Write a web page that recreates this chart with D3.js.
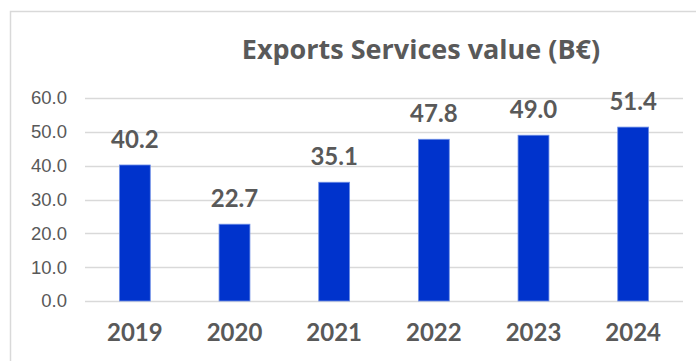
<!DOCTYPE html>
<html>
<head>
<meta charset="utf-8">
<script src="https://cdn.jsdelivr.net/npm/d3@7"></script>
<style>
  html, body { margin: 0; padding: 0; background: #fff; }
  svg { display: block; }
</style>
</head>
<body>
<svg id="chart" width="696" height="361"></svg>
<script>
// Annual exports of services, billions of euros
const years = ["2019", "2020", "2021", "2022", "2023", "2024"];
const values = [40.2, 22.7, 35.1, 47.8, 49.0, 51.4];
const yTicks = [0, 10, 20, 30, 40, 50, 60];
const title = "Exports Services value (B€)";

const W = 696, H = 361;
const margin = { left: 85, right: 13, top: 98, bottom: 60 };
const svg = d3.select("#chart");

// chart frame (only top and left edges fall inside the view)
svg.append("rect")
  .attr("x", 10.5).attr("y", 11.5)
  .attr("width", 720).attr("height", 400)
  .attr("fill", "none")
  .attr("stroke", "#d9d9d9")
  .attr("stroke-width", 1.5);

const x = d3.scaleBand()
  .domain(years)
  .range([margin.left, W - margin.right])
  .paddingInner(0.69)
  .paddingOuter(0.345);

const y = d3.scaleLinear()
  .domain([0, 60])
  .range([301, 98]);

// horizontal gridlines
svg.append("g")
  .selectAll("line")
  .data(yTicks)
  .join("line")
  .attr("x1", margin.left)
  .attr("x2", W - margin.right)
  .attr("y1", d => Math.round(y(d)) + 0.5)
  .attr("y2", d => Math.round(y(d)) + 0.5)
  .attr("stroke", "#d9d9d9")
  .attr("stroke-width", 1.5);

// y axis labels
const yAxis = d3.axisLeft(y)
  .tickValues(yTicks)
  .tickFormat(d3.format(".1f"))
  .tickSize(0)
  .tickPadding(0);
const gy = svg.append("g")
  .attr("transform", "translate(67,0)")
  .call(yAxis);
gy.select(".domain").remove();
gy.selectAll("text")
  .attr("fill", "#595959")
  .attr("font-family", "'Liberation Sans', Arial, sans-serif")
  .attr("font-size", 18.5);

// bars
svg.append("g")
  .selectAll("rect")
  .data(values)
  .join("rect")
  .attr("x", (d, i) => x(years[i]))
  .attr("y", d => y(d))
  .attr("width", x.bandwidth())
  .attr("height", d => y(0) - y(d))
  .attr("fill", "#0033cc")
  .attr("stroke", "#6f8fe6")
  .attr("stroke-width", 0.8);

// value labels
svg.append("g")
  .selectAll("text")
  .data(values)
  .join("text")
  .attr("x", (d, i) => x(years[i]) + x.bandwidth() / 2)
  .attr("y", d => y(d) - 17)
  .attr("text-anchor", "middle")
  .attr("fill", "#595959")
  .attr("font-family", "Lato, 'Open Sans', sans-serif")
  .attr("font-weight", "bold")
  .attr("font-size", 24)
  .text(d => d3.format(".1f")(d));

// x axis labels
const xAxis = d3.axisBottom(x).tickSize(0).tickPadding(0);
const gx = svg.append("g")
  .attr("transform", "translate(0,324)")
  .call(xAxis);
gx.select(".domain").remove();
gx.selectAll("text")
  .attr("fill", "#595959")
  .attr("font-family", "Lato, 'Open Sans', sans-serif")
  .attr("font-weight", "bold")
  .attr("font-size", 24);

// title
svg.append("text")
  .attr("x", 421)
  .attr("y", 59)
  .attr("text-anchor", "middle")
  .attr("fill", "#595959")
  .attr("font-family", "'Open Sans', Lato, sans-serif")
  .attr("font-weight", "bold")
  .attr("font-size", 27)
  .text(title);
</script>
</body>
</html>
